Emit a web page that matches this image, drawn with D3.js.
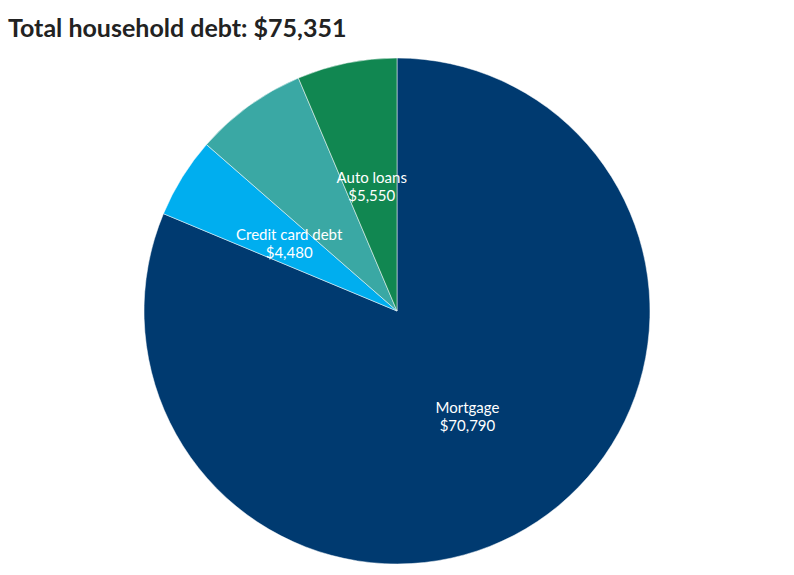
<!DOCTYPE html><html><head><meta charset="utf-8">
<script src="https://cdn.jsdelivr.net/npm/d3@7"></script>
<style>body{margin:0;background:#fff}text{font-family:"Source Sans Pro",Lato,"Open Sans",sans-serif}</style>
</head><body><svg id="c" width="794" height="575"></svg>
<script>
const categories=["Mortgage","Credit card debt","Student loans","Auto loans"];
const values=[70790,4480,6270,5550];
const labels=["$70,790","$4,480","","$5,550"];
const showLabel=[true,true,false,true];
const colors=["#003a70","#00aeef","#3aa8a4","#118751"];
const svg=d3.select("#c");
svg.append("text").attr("x",8).attr("y",37).attr("font-size",25).attr("font-weight",700).attr("fill","#222").text("Total household debt: $75,351");
const cx=397,cy=311,r=253;
const g=svg.append("g").attr("transform",`translate(${cx},${cy})`);
const pie=d3.pie().sort(null).value(d=>d)(values);
const arc=d3.arc().innerRadius(0).outerRadius(r);
const la=d3.arc().innerRadius(127).outerRadius(127);
g.selectAll("path").data(pie).join("path").attr("d",arc).attr("fill",(d,i)=>colors[i]).attr("stroke","#fff").attr("stroke-width",0.5);
pie.forEach((d,i)=>{if(!showLabel[i])return;const [x,y]=la.centroid(d);
const t=g.append("text").attr("text-anchor","middle").attr("fill","#fff").attr("font-size",15);
t.append("tspan").attr("x",x).attr("y",y-4).text(categories[i]);
t.append("tspan").attr("x",x).attr("y",y+14).text(labels[i]);});
</script></body></html>
